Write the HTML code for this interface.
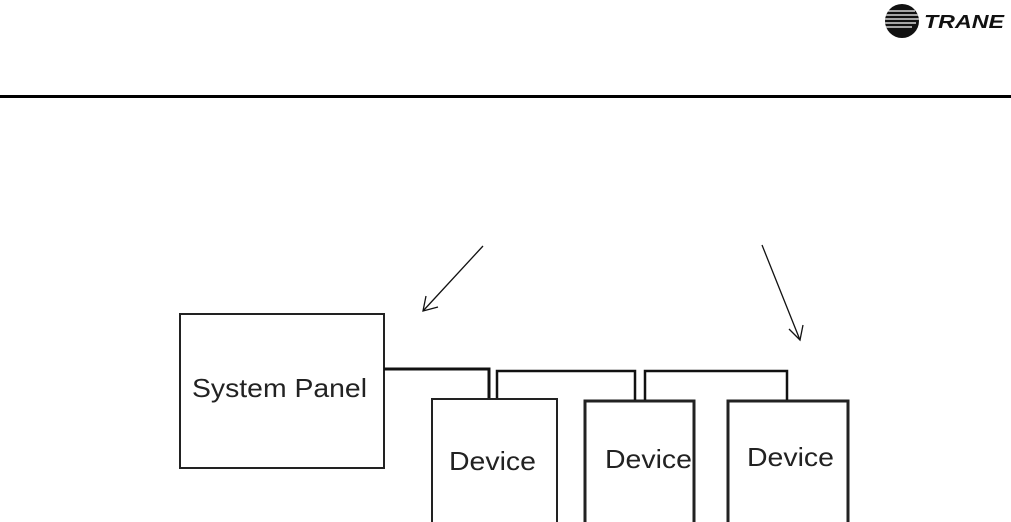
<!DOCTYPE html>
<html><head><style>
body{margin:0;background:#fff;width:1011px;height:522px;overflow:hidden;position:relative;font-family:"Liberation Sans",sans-serif}
</style></head><body>
<svg width="1011" height="522" style="position:absolute;left:0;top:0">
<defs><clipPath id="c"><circle cx="902" cy="21" r="17"/></clipPath></defs>
<circle cx="902" cy="21" r="17" fill="#111"/>
<g clip-path="url(#c)" stroke="#fff" stroke-width="1.2">
<line x1="880" y1="11" x2="915" y2="11"/><line x1="880" y1="15" x2="918" y2="15"/><line x1="880" y1="19" x2="920" y2="19"/><line x1="880" y1="23" x2="916" y2="23"/><line x1="880" y1="27" x2="912" y2="27"/>
</g>
<text x="924" y="28" font-size="18" font-weight="bold" font-style="italic" fill="#111" textLength="80" lengthAdjust="spacingAndGlyphs">TRANE</text>
<line x1="0" y1="96.5" x2="1011" y2="96.5" stroke="#000" stroke-width="3"/>
<g stroke="#111" stroke-width="1.3" fill="none">
<line x1="483" y1="246" x2="423" y2="311"/><polyline points="426,296 423,311 438,307"/>
<line x1="762" y1="245" x2="800" y2="340"/><polyline points="789,329 800,340 803,325"/>
</g>
<g stroke="#222" fill="#fff">
<rect x="180" y="314" width="204" height="154" stroke-width="2"/>
<rect x="432" y="399" width="125" height="125" stroke-width="2"/>
<rect x="585" y="401" width="109" height="125" stroke-width="3"/>
<rect x="728" y="401" width="120" height="125" stroke-width="3"/>
</g>
<g stroke="#111" fill="none">
<polyline points="384,369 489,369 489,398" stroke-width="3"/>
<polyline points="497,398 497,371 635,371 635,400" stroke-width="2.5"/>
<polyline points="645,400 645,371 787,371 787,400" stroke-width="2.5"/>
</g>
<g fill="#222" font-size="26" lengthAdjust="spacingAndGlyphs">
<text x="192" y="397" textLength="175" lengthAdjust="spacingAndGlyphs">System Panel</text>
<text x="449" y="470" textLength="87" lengthAdjust="spacingAndGlyphs">Device</text>
<text x="605" y="468" textLength="87" lengthAdjust="spacingAndGlyphs">Device</text>
<text x="747" y="466" textLength="87" lengthAdjust="spacingAndGlyphs">Device</text>
</g>
</svg>
</body></html>
